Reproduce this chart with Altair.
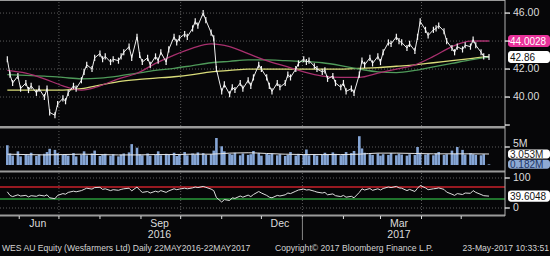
import altair as alt
import pandas as pd

# ---------------- data ----------------
START = pd.Timestamp("2016-05-22")
sessions = pd.bdate_range("2016-05-23", "2017-05-22")[::2]      # every 2nd session
ma_sessions = pd.bdate_range("2016-05-23", "2017-05-22")[::10]  # smooth series

price = [42.7, 41.6, 41.0, 41.5, 40.6, 41.0, 40.5, 40.8, 40.3, 40.6,
         40.0, 40.6, 38.9, 38.7, 39.5, 39.9, 39.7, 40.3, 40.8, 40.6,
         41.2, 41.8, 42.3, 42.0, 42.8, 43.1, 42.7, 42.9, 42.5, 42.7,
         42.6, 42.9, 43.2, 43.6, 42.8, 44.3, 43.0, 42.5, 42.8, 42.3,
         42.9, 42.6, 43.2, 42.5, 43.4, 44.3, 43.9, 44.2, 44.5, 44.3,
         44.9, 45.4, 45.1, 46.0, 45.5, 44.6, 44.2, 42.0, 40.4, 40.9,
         40.2, 40.7, 40.5, 41.0, 40.6, 41.2, 40.8, 41.4, 42.3, 42.0,
         41.4, 40.8, 40.4, 41.0, 40.7, 41.0, 41.6, 41.4, 42.0, 42.4,
         42.7, 42.5, 42.6, 42.2, 42.0, 41.8, 41.9, 41.3, 41.5, 41.0,
         40.7, 41.0, 40.4, 40.6, 40.3, 41.6, 42.6, 42.3, 42.8, 42.4,
         42.9, 42.5, 43.2, 43.9, 43.8, 44.3, 44.0, 43.9, 43.5, 43.8,
         43.3, 44.3, 45.4, 44.8, 44.4, 44.8, 44.9, 45.1, 44.7, 44.0,
         43.5, 43.2, 43.6, 43.4, 43.7, 43.6, 44.1, 43.7, 43.2, 42.9, 42.86]

volume = [5.5, 3.2, 2.6, 3.8, 2.4, 3.0, 2.7, 3.4, 2.5, 2.9, 3.1,
          3.6, 4.5, 4.2, 3.3, 2.8, 3.0, 2.6, 3.3, 2.4, 2.9,
          3.8, 2.7, 3.2, 4.0, 2.5, 2.8, 3.1, 2.6, 3.0, 2.4,
          2.9, 3.2, 3.5, 5.8, 4.8, 3.0, 2.7, 3.2, 2.6, 2.9,
          3.8, 2.7, 3.1, 2.8, 3.4, 2.5, 3.0, 3.6, 2.7, 3.2,
          2.9, 3.5, 3.3, 2.8, 3.0, 4.0, 7.5, 5.2, 3.8, 3.1,
          2.9, 3.4, 2.7, 3.2, 2.8, 3.0, 3.9, 3.3, 2.6, 3.1,
          2.9, 3.2, 2.7, 3.0, 2.5, 2.8, 3.6, 2.6, 3.1, 2.9,
          4.3, 2.7, 3.0, 2.6, 2.9, 3.4, 2.8, 3.5, 3.1, 2.7,
          3.0, 3.6, 3.3, 3.9, 8.0, 4.6, 3.4, 3.0, 2.8, 3.2,
          2.6, 3.0, 2.8, 3.3, 2.7, 3.1, 2.9, 2.6, 3.0, 2.8,
          5.0, 3.4, 2.9, 3.1, 2.7, 3.2, 3.6, 2.8, 3.0, 4.0,
          3.1, 5.0, 4.2, 2.9, 3.3, 3.0, 2.8, 2.7, 3.0, 0.182]

rsi = [54, 42, 38, 44, 40, 42, 37, 41, 39, 43,
       40, 44, 34, 31, 42, 48, 46, 52, 56, 54,
       58, 62, 66, 63, 68, 69, 62, 64, 58, 61,
       59, 62, 64, 66, 57, 70, 60, 52, 55, 50,
       56, 53, 58, 52, 57, 64, 61, 63, 66, 64,
       67, 70, 68, 72, 69, 63, 58, 35, 20, 28,
       25, 34, 32, 40, 36, 43, 38, 45, 55, 50,
       42, 36, 34, 42, 40, 44, 50, 48, 56, 60,
       63, 60, 61, 56, 53, 50, 52, 44, 47, 41,
       38, 42, 36, 39, 34, 52, 64, 60, 65, 59,
       64, 60, 65, 70, 68, 72, 67, 66, 58, 62,
       55, 66, 75, 67, 61, 64, 65, 67, 62, 53,
       46, 42, 48, 45, 50, 49, 58, 52, 45, 41, 39.6048]

ma_pink = [41.9, 41.7, 41.3, 40.8, 40.5, 40.8, 41.3, 41.7, 42.4, 43.0,
           43.5, 43.8, 43.6, 43.1, 42.6, 42.2, 41.8, 41.5, 41.4, 41.4,
           41.7, 42.0, 42.3, 42.9, 43.6, 44.0, 44.0028]
ma_green = [41.6, 41.55, 41.5, 41.4, 41.3, 41.35, 41.5, 41.7, 41.9, 42.05,
            42.25, 42.45, 42.55, 42.65, 42.65, 42.6, 42.55, 42.45, 42.25, 42.0,
            41.8, 41.75, 41.9, 42.15, 42.4, 42.65, 42.85]
ma_yellow = [40.5, 40.5, 40.5, 40.5, 40.6, 40.85, 41.1, 41.25, 41.35, 41.45,
             41.6, 41.8, 41.9, 42.0, 42.0, 42.0, 42.0, 42.0, 42.0, 42.05,
             42.1, 42.2, 42.3, 42.45, 42.6, 42.75, 42.9]
vol_ma = [3.0, 2.9, 2.8, 2.9, 3.0, 2.9, 2.8, 2.8, 2.9, 2.9,
          3.0, 3.0, 3.3, 3.4, 3.2, 3.0, 2.9, 2.9, 2.9, 3.0,
          3.3, 3.3, 3.2, 3.1, 3.1, 3.1, 3.053]

price_ticks = [46, 44, 42, 40, 38]
price_tick_labels = ["46.00", "", "42.00", "40.00", ""]
vol_ticks = [5]
vol_tick_labels = ["5M"]
rsi_ticks = [100, 0]
rsi_tick_labels = ["100", "0"]
rsi_levels = [70, 30]
rsi_level_colors = ["#c8202a", "#2a9a3a"]

grid_dates = ["2016-07-01", "2016-10-01", "2017-01-01", "2017-04-01"]
month_starts = ["2016-06-01", "2016-07-01", "2016-08-01", "2016-09-01", "2016-10-01",
                "2016-11-01", "2016-12-01", "2017-01-01", "2017-02-01", "2017-03-01",
                "2017-04-01", "2017-05-01"]
month_labels = ["Jun", "Sep", "Dec", "Mar"]
month_label_dates = ["2016-06-15", "2016-09-15", "2016-12-15", "2017-03-15"]
year_labels = ["2016", "2017"]
year_label_dates = ["2016-09-15", "2017-03-15"]
year_break = ["2017-01-01"]

footer_left = "WES AU Equity (Wesfarmers Ltd)  Daily 22MAY2016-22MAY2017"
footer_mid = "Copyright\u00a9 2017 Bloomberg Finance L.P."
footer_right = "23-May-2017 10:33:51"


def days(ds):
    return [(pd.Timestamp(d) - START).days for d in ds]


# ---------------- tables ----------------
daily = pd.DataFrame({"d": days(sessions), "price": price, "vol": volume, "rsi": rsi})
mas = pd.DataFrame({"d": days(ma_sessions), "pink": ma_pink, "green": ma_green,
                    "yellow": ma_yellow, "volma": vol_ma})
pt = pd.DataFrame({"v": price_ticks, "t": price_tick_labels})
vt = pd.DataFrame({"v": vol_ticks, "t": vol_tick_labels})
rt = pd.DataFrame({"v": rsi_ticks, "t": rsi_tick_labels})
rl = pd.DataFrame({"v": rsi_levels, "c": rsi_level_colors})
gd = pd.DataFrame({"d": days(grid_dates)})
ms = pd.DataFrame({"d": days(month_starts)})
ml = pd.DataFrame({"d": days(month_label_dates), "t": month_labels})
yl = pd.DataFrame({"d": days(year_label_dates), "t": year_labels})
yb = pd.DataFrame({"d": days(year_break)})
one = pd.DataFrame({"k": [0]})
boxes_price = pd.DataFrame({"v": [ma_pink[-1], price[-1]],
                            "t": [f"{ma_pink[-1]:.4f}", f"{price[-1]:.2f}"],
                            "bg": ["#e8329a", "#ffffff"], "fg": ["#ffffff", "#111111"]})
boxes_vol = pd.DataFrame({"v": [vol_ma[-1], volume[-1]],
                          "t": [f"{vol_ma[-1]:.3f}M", f"{volume[-1]:.3f}M"],
                          "bg": ["#ffffff", "#8eaad4"], "fg": ["#222222", "#1d3566"]})
boxes_rsi = pd.DataFrame({"v": [rsi[-1]], "t": [f"{rsi[-1]:.4f}"],
                          "bg": ["#ffffff"], "fg": ["#111111"]})

# ---------------- scales ----------------
XS = alt.Scale(domain=[0, 365], range=[1, 494])
PS = dict(domain=[37.93, 46.79], range=[126, 2])
VS = dict(domain=[-1.39, 10.0], range=[170, 129])
RS = dict(domain=[-20.0, 116.67], range=[214, 173])
AX = 505
FONT = "Liberation Sans"


def X(f="d"):
    return alt.X(f"{f}:Q", scale=XS, axis=None)


def Y(f, s):
    return alt.Y(f"{f}:Q", scale=alt.Scale(domain=s["domain"], range=s["range"]), axis=None)


layers = []

# panel separators / frame
for y0, y1 in [(0, 1), (126, 128.5), (170.5, 172.5), (214.5, 216.5)]:
    layers.append(alt.Chart(one).mark_rect(color="#9a9a9a").encode(
        x=alt.value(0), x2=alt.value(AX), y=alt.value(y0), y2=alt.value(y1)))

# vertical dotted grid
layers.append(alt.Chart(gd).mark_rule(color="#5c5c5c", strokeDash=[1, 2], strokeWidth=1).encode(
    x=X(), y=alt.value(2), y2=alt.value(214)))

# horizontal dotted grid
for df, s in [(pt.iloc[:4], PS), (vt, VS), (rt, RS)]:
    layers.append(alt.Chart(df).mark_rule(color="#5c5c5c", strokeDash=[1, 2], strokeWidth=1).encode(
        y=Y("v", s), x=alt.value(0), x2=alt.value(AX)))

# moving averages
for col, color in [("yellow", "#d9dc7a"), ("green", "#4f9a5a"), ("pink", "#a8306e")]:
    layers.append(alt.Chart(mas).mark_line(color=color, strokeWidth=1.3, interpolate="monotone").encode(
        x=X(), y=Y(col, PS)))

# price bars (line through closes plus short session bars)
layers.append(alt.Chart(daily).mark_line(color="#eeeeee", strokeWidth=1).encode(
    x=X(), y=Y("price", PS)))
layers.append(alt.Chart(daily).transform_calculate(
    lo="datum.price - 0.22", hi="datum.price + 0.22").mark_rule(
    color="#f4f4f4", strokeWidth=1.2).encode(x=X(), y=Y("lo", PS), y2="hi:Q"))

# volume
layers.append(alt.Chart(daily).mark_bar(color="#86a6d6", size=2.6).encode(
    x=X(), y=Y("vol", VS)))
layers.append(alt.Chart(mas).mark_line(color="#e6e6e6", strokeWidth=1, interpolate="monotone").encode(
    x=X(), y=Y("volma", VS)))

# RSI
layers.append(alt.Chart(rl).mark_rule(strokeWidth=1.6).encode(
    y=Y("v", RS), x=alt.value(0), x2=alt.value(AX),
    color=alt.Color("c:N", scale=None)))
layers.append(alt.Chart(daily).mark_line(color="#dddddd", strokeWidth=1).encode(
    x=X(), y=Y("rsi", RS)))

# right axis line
layers.append(alt.Chart(one).mark_rule(color="#b0b0b0", strokeWidth=1).encode(
    x=alt.value(AX), y=alt.value(0), y2=alt.value(216)))

# value boxes (drawn before tick labels so "5M" stays readable, like the reference)
for df, s, half in [(boxes_price, PS, 0.43), (boxes_vol, VS, 1.25), (boxes_rsi, RS, 19.0)]:
    layers.append(alt.Chart(df).transform_calculate(
        lo=f"datum.v - {half}", hi=f"datum.v + {half}").mark_rect(cornerRadius=3).encode(
        y=Y("lo", s), y2="hi:Q", x=alt.value(AX + 3), x2=alt.value(550),
        color=alt.Color("bg:N", scale=None)))
    layers.append(alt.Chart(df).mark_text(align="left", baseline="middle", font=FONT,
                                          fontSize=10, dy=0.5).encode(
        y=Y("v", s), x=alt.value(AX + 5), text="t:N",
        color=alt.Color("fg:N", scale=None)))

# right axis ticks + labels
for df, s, dy in [(pt, PS, 0), (vt, VS, -3), (rt, RS, 0)]:
    layers.append(alt.Chart(df).mark_rule(color="#ffffff", strokeWidth=1.2).encode(
        y=Y("v", s), x=alt.value(AX), x2=alt.value(AX + 5)))
    layers.append(alt.Chart(df).mark_text(align="left", baseline="middle", font=FONT,
                                          fontSize=10.5, color="#dcdcdc", dy=dy).encode(
        y=Y("v", s), x=alt.value(AX + 8), text="t:N"))

# bottom time axis
layers.append(alt.Chart(ms).mark_rule(color="#dddddd", strokeWidth=1).encode(
    x=X(), y=alt.value(216), y2=alt.value(219)))
layers.append(alt.Chart(yb).mark_rule(color="#888888", strokeWidth=1).encode(
    x=X(), y=alt.value(217), y2=alt.value(240)))
layers.append(alt.Chart(ml).mark_text(baseline="middle", font=FONT, fontSize=10.5,
                                      color="#dcdcdc").encode(
    x=X(), y=alt.value(224), text="t:N"))
layers.append(alt.Chart(yl).mark_text(baseline="middle", font=FONT, fontSize=10.5,
                                      color="#dcdcdc").encode(
    x=X(), y=alt.value(235), text="t:N"))

# footer
for txt, xx, al in [(footer_left, 2, "left"), (footer_mid, 275, "left"), (footer_right, 549, "right")]:
    layers.append(alt.Chart(one).mark_text(align=al, baseline="middle", font=FONT, fontSize=8.6,
                                           color="#d4d4d4").encode(
        x=alt.value(xx), y=alt.value(248), text=alt.value(txt)))

chart = alt.layer(*layers).resolve_scale(y="independent", color="independent").properties(
    width=550, height=256, padding=0, autosize=alt.AutoSizeParams(type="none")
).configure(background="#060608").configure_view(stroke=None)

chart.save("out.html", embed_options={"renderer": "svg", "actions": False})
